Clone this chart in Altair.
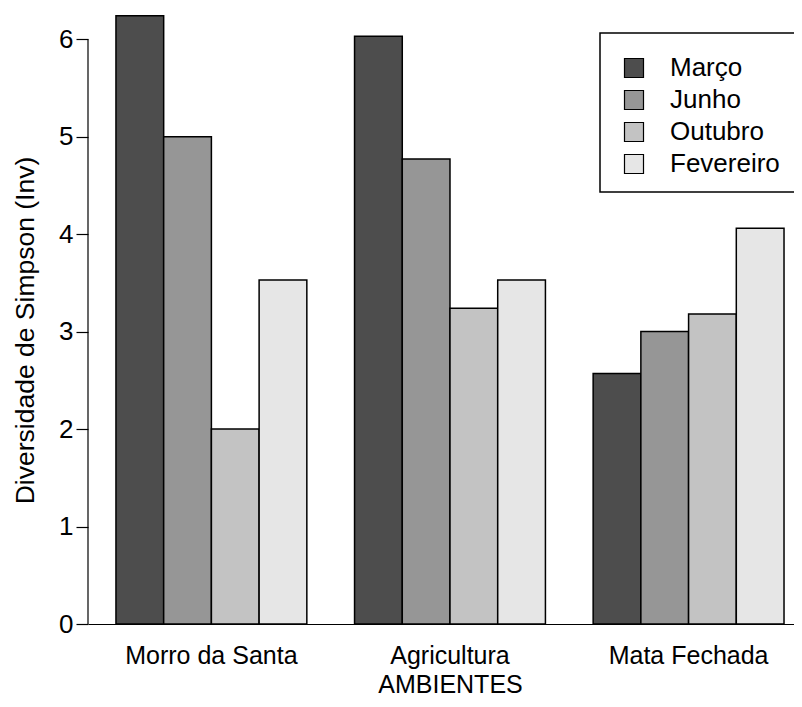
import altair as alt
import pandas as pd

ambientes = ["Morro da Santa", "Agricultura", "Mata Fechada"]
meses = ["Março", "Junho", "Outubro", "Fevereiro"]
marco = [6.24, 6.03, 2.57]
junho = [5.00, 4.77, 3.00]
outubro = [2.00, 3.24, 3.18]
fevereiro = [3.53, 3.53, 4.06]
cores = ["#4D4D4D", "#969696", "#C3C3C3", "#E6E6E6"]
y_ticks = [0, 1, 2, 3, 4, 5, 6]

rows = []
for serie, vals in zip(meses, [marco, junho, outubro, fevereiro]):
    for amb, v in zip(ambientes, vals):
        rows.append({"Ambiente": amb, "Mes": serie, "Valor": v})
df = pd.DataFrame(rows)

FONT = "Liberation Sans"

yscale = alt.Scale(domain=[0, 6.3], nice=False, zero=True)

bars = alt.Chart(df).mark_bar(stroke="black", strokeWidth=1.5, opacity=1).encode(
    x=alt.X(
        "Ambiente:N",
        sort=ambientes,
        scale=alt.Scale(paddingInner=0.2, paddingOuter=0.0795, align=0.737),
        axis=alt.Axis(
            title="AMBIENTES",
            labelAngle=0,
            labelLimit=400,
            ticks=False,
            domain=True,
            domainColor="black",
            domainWidth=1.2,
            labelPadding=19,
            labelFontSize=25,
            labelFont=FONT,
            labelColor="black",
            titleFontSize=25,
            titleFont=FONT,
            titleFontWeight="normal",
            titleColor="black",
            titleX=362,
            titleY=60,
            titleBaseline="middle",
        ),
    ),
    xOffset=alt.XOffset("Mes:N", sort=meses, scale=alt.Scale(paddingInner=0, paddingOuter=0)),
    y=alt.Y(
        "Valor:Q",
        scale=yscale,
        axis=alt.Axis(
            title="Diversidade de Simpson (Inv)",
            values=y_ticks,
            format="d",
            domain=False,
            grid=False,
            tickColor="black",
            tickSize=12,
            tickWidth=1.2,
            labelPadding=3,
            labelFontSize=26,
            labelFont=FONT,
            labelColor="black",
            titleFontSize=26.5,
            titleFont=FONT,
            titleFontWeight="normal",
            titleColor="black",
            titleX=-63,
            titleY=320,
            titleBaseline="middle",
        ),
    ),
    color=alt.Color(
        "Mes:N",
        sort=meses,
        scale=alt.Scale(domain=meses, range=cores),
        legend=alt.Legend(
            title=" ",
            titleFontSize=1,
            titlePadding=6,
            orient="none",
            legendX=512,
            legendY=23,
            symbolType="square",
            symbolSize=361,
            symbolStrokeColor="black",
            symbolStrokeWidth=1.2,
            symbolOffset=6,
            labelOffset=23,
            labelFontSize=26,
            labelFont=FONT,
            labelColor="black",
            rowPadding=6,
            padding=15,
            strokeColor="black",
            fillColor="white",
        ),
    ),
)

axis_line = alt.Chart(pd.DataFrame({"a": [0], "b": [6]})).mark_rule(
    color="black", strokeWidth=1.2
).encode(x=alt.value(0), y=alt.Y("a:Q", scale=yscale), y2="b:Q")

chart = alt.layer(bars, axis_line).properties(
    width=706,
    height=614,
    autosize=alt.AutoSizeParams(type="none"),
    padding={"left": 80, "top": 2, "right": 0, "bottom": 75},
).configure_view(stroke=None).configure_legend(strokeWidth=1.5)

chart.save("out.html", embed_options={"renderer": "svg", "actions": False})
